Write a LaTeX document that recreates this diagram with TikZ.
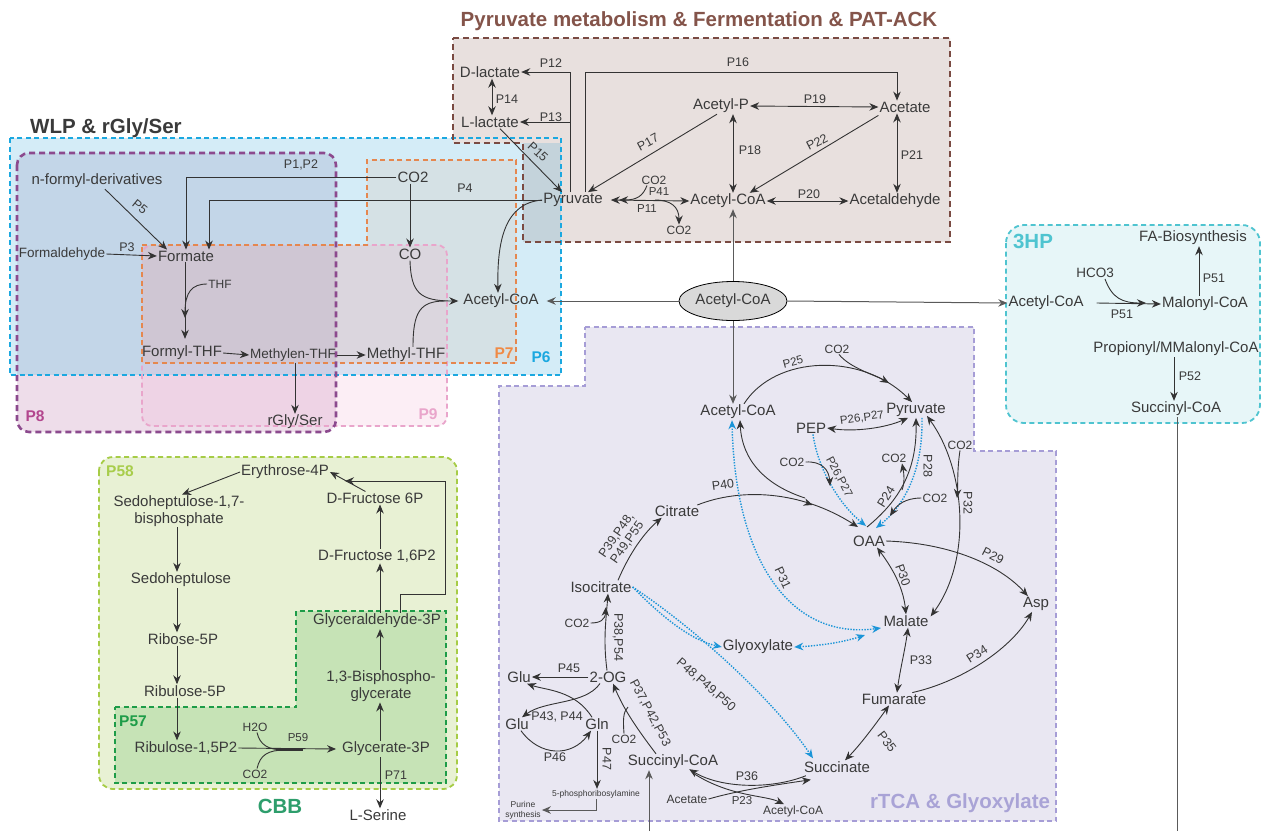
\documentclass[tikz,border=0pt]{standalone}
\usepackage{fontspec}
\setmainfont{Liberation Sans}
\usetikzlibrary{arrows.meta,decorations.markings,shapes.geometric,calc}
\definecolor{txt}{HTML}{3A3A3A}
\definecolor{lnc}{HTML}{333333}
\definecolor{gln}{HTML}{5A5A5A}
\definecolor{brT}{HTML}{84544A}
\definecolor{brB}{HTML}{7A4A42}
\definecolor{brF}{HTML}{E8E0DE}
\definecolor{p6B}{HTML}{1BA8E0}
\definecolor{p6F}{HTML}{D4ECF7}
\definecolor{p8B}{HTML}{8C4A8E}
\definecolor{p8L}{HTML}{B3468E}
\definecolor{p8F}{HTML}{C3D6E8}
\definecolor{p8G}{HTML}{EEDDEA}
\definecolor{p9B}{HTML}{E9A5CB}
\definecolor{p9F}{HTML}{F2B4D4}
\definecolor{p7B}{HTML}{E5874F}
\definecolor{p7L}{HTML}{F08A45}
\definecolor{ovF}{HTML}{C4D3DB}
\definecolor{hpB}{HTML}{4FC4D0}
\definecolor{hpF}{HTML}{E7F6F8}
\definecolor{rtB}{HTML}{A69DD6}
\definecolor{rtF}{HTML}{E9E7F2}
\definecolor{rtL}{HTML}{A9A3D6}
\definecolor{c58B}{HTML}{A6CC46}
\definecolor{c58F}{HTML}{E8F1D4}
\definecolor{c58L}{HTML}{A8CD4B}
\definecolor{c57B}{HTML}{1E9C48}
\definecolor{c57F}{HTML}{C6E3B6}
\definecolor{cbbT}{HTML}{2E9E6C}
\definecolor{bdot}{HTML}{1B95D8}
\definecolor{ellF}{HTML}{D9D9D9}
\tikzset{
  mt/.style={font=\fontsize{15}{17}\selectfont, text=txt, inner sep=1pt},
  mtt/.style={font=\fontsize{15}{16.5}\selectfont, text=txt, inner sep=1pt, align=center},
  mt2/.style={font=\fontsize{13.5}{15}\selectfont, text=txt, inner sep=1pt},
  st/.style={font=\fontsize{12}{13}\selectfont, text=txt, inner sep=1pt},
  pl/.style={font=\fontsize{12.5}{13.5}\selectfont, text=txt, inner sep=0.5pt},
  pls/.style={font=\fontsize{11.5}{13}\selectfont, text=txt, inner sep=0.5pt},
  tt/.style={font=\fontsize{8.5}{10}\selectfont, text=txt, inner sep=1pt},
  ttl/.style={font=\bfseries\fontsize{20.5}{23}\selectfont, inner sep=1pt},
  bl/.style={font=\bfseries\fontsize{15.5}{17}\selectfont, inner sep=1pt},
  ln/.style={draw=lnc, line width=0.9pt},
  ar/.style={ln, -{Stealth[length=9pt,width=7.5pt]}},
  dar/.style={ln, {Stealth[length=9pt,width=7.5pt]}-{Stealth[length=9pt,width=7.5pt]}},
  gar/.style={draw=gln, line width=1pt, -{Stealth[length=9pt,width=7.5pt]}},
  gln/.style={draw=gln, line width=1pt},
  bar/.style={draw=bdot, line width=1.4pt, dash pattern=on 1.4pt off 1.4pt, -{Stealth[length=9pt,width=7.5pt]}},
  bdar/.style={draw=bdot, line width=1.4pt, dash pattern=on 1.4pt off 1.4pt, {Stealth[length=9pt,width=7.5pt]}-{Stealth[length=9pt,width=7.5pt]}},
  midar/.style={decoration={markings, mark=at position #1 with {\arrow{Stealth[length=9pt,width=7.5pt]}}}, postaction={decorate}},
  boxd/.style={line width=2.2pt, dash pattern=on 6pt off 4pt},
  boxt/.style={line width=1.8pt, dash pattern=on 5pt off 3.5pt}
}
\begin{document}
\begin{tikzpicture}[x=1pt,y=-1pt]
\useasboundingbox (0,0) rectangle (1263,831);
\fill[white] (0,0) rectangle (1263,831);

% ---------- backgrounds ----------
\fill[p6F] (10,138) rectangle (561,375);
\begin{scope}
  \clip (0,0) rectangle (600,375);
  \fill[p8F, rounded corners=12pt] (17,153) rectangle (336,432);
\end{scope}
\begin{scope}
  \clip (0,375) rectangle (600,500);
  \fill[p8G, rounded corners=12pt] (17,153) rectangle (336,432);
\end{scope}
\fill[p9F, fill opacity=0.22, rounded corners=10pt] (142,245) rectangle (447,426);
\fill[p7B, fill opacity=0.1] (142,245) -- (367,245) -- (367,160) -- (516,160) -- (516,363) -- (142,363) -- cycle;
\fill[brF] (453,38) -- (950,38) -- (950,242) -- (523,242) -- (523,143) -- (453,143) -- cycle;
\fill[ovF] (523,143) rectangle (561,242);

\draw[p6B, boxt] (10,138) rectangle (561,375);
\draw[p9B, boxt, rounded corners=10pt] (142,245) rectangle (447,426);
\draw[p7B, boxt] (142,245) -- (367,245) -- (367,160) -- (516,160) -- (516,363) -- (142,363) -- cycle;
\draw[p8B, line width=2.6pt, dash pattern=on 6pt off 4pt, rounded corners=12pt] (17,153) rectangle (336,432);
\draw[brB, boxd] (453,38) -- (950,38) -- (950,242) -- (523,242) -- (523,143) -- (453,143) -- cycle;

\filldraw[fill=hpF, draw=hpB, boxt, rounded corners=18pt] (1006,225) rectangle (1260,423);
\filldraw[fill=rtF, draw=rtB, boxt] (585,327) -- (974,327) -- (974,451) -- (1056,451) -- (1056,821) -- (499,821) -- (499,386) -- (585,386) -- cycle;
\filldraw[fill=c58F, draw=c58B, boxt, rounded corners=14pt] (99,457) rectangle (457,789);
\filldraw[fill=c57F, draw=c57B, boxt] (115,707) -- (296,707) -- (296,611) -- (446,611) -- (446,783) -- (115,783) -- cycle;

% ---------- titles ----------
\node[ttl, text=brT] (t1) at (699,21) {Pyruvate metabolism \& Fermentation \& PAT-ACK};
\node[ttl, text=txt, anchor=west] (t2) at (29,128) {WLP \& rGly/Ser};
\node[ttl, text=hpB] (t3) at (1033,241) {3HP};
\node[ttl, text=cbbT] (t4) at (280,806) {CBB};
\node[ttl, text=rtL] (t5) at (960,803) {rTCA \& Glyoxylate};
\node[bl, text=p6B] (l6) at (541,357) {P6};
\node[bl, text=p7L] (l7) at (504,353) {P7};
\node[bl, text=p8L] (l8) at (35,416) {P8};
\node[bl, text=p9B] (l9) at (428,414) {P9};
\node[bl, text=c58L] (l58) at (120,471) {P58};
\node[bl, text=c57B] (l57) at (133,721) {P57};

% ---------- pyruvate module ----------
\node[mt] (dlac) at (490,72) {D-lactate};
\node[mt] (llac) at (490,122) {L-lactate};
\node[mt] (acp) at (721,106) {Acetyl-P};
\node[mt] (acet) at (905,107) {Acetate};
\node[mt] (pyr) at (573,200) {Pyruvate};
\node[mt] (accoa1) at (728,201) {Acetyl-CoA};
\node[mt] (acald) at (895,201) {Acetaldehyde};
\node[st] (co2a) at (654,180) {CO2};
\node[st] (co2b) at (679,230) {CO2};

\coordinate (j12) at (570,72);
\coordinate (j16) at (585,72);
\draw[ar] (pyr.north -| j12) |- (dlac.east);
\draw[ar] (j12 |- llac.east) -- (llac.east);
\draw[ar] (pyr.north -| j16) -- (j16) -| ([xshift=-8pt]acet.north);
\draw[dar] ([xshift=2pt]dlac.south) -- ([xshift=2pt]llac.north);
\draw[ar] ([xshift=10pt]llac.south) -- ([xshift=-11pt]pyr.north);
\draw[ar] ([xshift=-4pt]acp.south) -- ([xshift=15pt]pyr.north);
\draw[dar] ($(acp.south)+(12,0)$) -- ($(accoa1.north)+(5,0)$);
\draw[dar] (acp.east) -- (acet.west);
\draw[dar] ($(acet.south)+(-8,0)$) -- ($(acald.north)+(2,0)$);
\draw[ar] ($(acet.south west)+(0,2)$) -- ($(accoa1.north east)+(-17,0)$);
\draw[dar] (accoa1.east) -- (acald.west);
\draw[dar] ($(pyr.east)+(7,0)$) -- (accoa1.west);
\draw[ar] ($(co2a.south)+(-7,0)$) .. controls (643,196) and (637,200) .. (619,200);
\draw[ar] (655,200) .. controls (671,200) and (679,207) .. (co2b.north);

\node[pl] at (551,63) {P12};
\node[pl] at (551,117) {P13};
\node[pl] at (507,99) {P14};
\node[pl, rotate=-43] at (538,152) {P15};
\node[pl] at (738,62) {P16};
\node[pl, rotate=28] at (648,142) {P17};
\node[pl] at (750,150) {P18};
\node[pl] at (815,99) {P19};
\node[pl] at (809,194) {P20};
\node[pl] at (912,155) {P21};
\node[pl, rotate=27] at (817,142) {P22};
\node[pls] at (659,192) {P41};
\node[pls] at (647,209) {P11};

% ---------- WLP ----------
\node[mt] (nform) at (97,181) {n-formyl-derivatives};
\node[mt] (co2w) at (413,177) {CO2};
\node[mt2] (fald) at (62,254) {Formaldehyde};
\node[mt] (fmt) at (186,256) {Formate};
\node[st] (thf) at (220,284) {THF};
\node[mt] (co) at (410,254) {CO};
\node[mt] (accoaw) at (501,301) {Acetyl-CoA};
\node[mt] (fthf) at (182,353) {Formyl-THF};
\node[mt2] (mthf) at (293,355) {Methylen-THF};
\node[mt] (methyl) at (406,355) {Methyl-THF};
\node[mt] (rgly) at (295,422) {rGly/Ser};

\draw[ar] ($(nform.south)+(8,0)$) -- ($(fmt.north)+(-19,0)$);
\draw[ar] (co2w.west) -| (fmt.north);
\draw[ar] (pyr.west) -| ($(fmt.north)+(23,0)$);
\draw[ar] (fald.east) -- (fmt.west);
\draw[ar] (co2w.south -| co.north) -- (co.north);
\draw[ar] ($(fmt.south)+(-1,0)$) -- ($(fthf.north)+(3,-6)$);
\draw[ar] (thf.west) .. controls (192,284) and (185,292) .. (185,318);
\draw[ar] (co.south) .. controls (411,293) and (420,301) .. ($(accoaw.west)+(-4,0)$);
\draw[ln] ($(methyl.north)+(7,0)$) .. controls (413,312) and (420,301) .. (445,301);
\draw[ar] (pyr.west) .. controls (505,203) and (497,240) .. ($(accoaw.north)+(-3,0)$);
\draw[ar] (fthf.east) -- (mthf.west);
\draw[ar] (mthf.east) -- (methyl.west);
\draw[ar] (mthf.south -| rgly.north) -- (rgly.north);

\node[pl] at (301,165) {P1,P2};
\node[pl] at (465,188) {P4};
\node[pl, rotate=-39] at (140,207) {P5};
\node[pl] at (127,247) {P3};

% ---------- central ----------
\node[ellipse, draw=black, fill=ellF, line width=0.8pt, minimum width=108pt, minimum height=39pt, inner sep=0pt, font=\fontsize{15}{17}\selectfont, text=txt] (ell) at (733,301) {Acetyl-CoA};

% ---------- 3HP ----------
\node[mt] (accoa3) at (1046,303) {Acetyl-CoA};
\node[mt2] (hco3) at (1095,273) {HCO3};
\node[mt] (malo) at (1205,304) {Malonyl-CoA};
\node[mt] (fab) at (1193,238) {FA-Biosynthesis};
\node[mt] (prop) at (1176,349) {Propionyl/MMalonyl-CoA};
\node[mt] (succ3) at (1176,409) {Succinyl-CoA};
\coordinate (bot3) at (1177,831);

\draw[gar] (ell.west) -- ($(accoaw.east)+(7,0)$);
\draw[gar] (ell.east) -- (accoa3.west);
\draw[gar] (ell.north) -- (ell.north |- accoa1.south);

\draw[ar] ($(accoa3.east)+(12,0)$) -- (malo.west);
\draw[ar] ($(hco3.south)+(10,0)$) .. controls (1112,298) and (1122,303) .. (1146,303);
\draw[ar] ($(malo.north)+(-6,0)$) -- ($(fab.south)+(6,0)$);
\draw[ar] ($(prop.south)+(-2,0)$) -- ($(succ3.north)+(-2,0)$);
\draw[gln] (succ3.south -| bot3) -- (bot3);
\node[pl] at (1122,314) {P51};
\node[pl] at (1214,278) {P51};
\node[pl] at (1190,376) {P52};

% ---------- rTCA ----------
\node[mt] (accoar) at (738,412) {Acetyl-CoA};
\node[mt] (pyrr) at (916,410) {Pyruvate};
\node[mt] (pep) at (811,428) {PEP};
\node[mt] (oaa) at (869,541) {OAA};
\node[mt] (cit) at (677,511) {Citrate};
\node[mt] (isoc) at (601,587) {Isocitrate};
\node[mt] (glyox) at (758,647) {Glyoxylate};
\node[mt] (mal) at (906,621) {Malate};
\node[mt] (asp) at (1036,604) {Asp};
\node[mt] (og) at (608,677) {2-OG};
\node[mt] (glu1) at (519,677) {Glu};
\node[mt] (glu2) at (517,724) {Glu};
\node[mt] (gln) at (597,724) {Gln};
\node[mt] (fum) at (894,699) {Fumarate};
\node[mt] (succoa) at (673,762) {Succinyl-CoA};
\node[mt] (succ) at (837,767) {Succinate};
\node[st] (acetr) at (687,799) {Acetate};
\node[st] (accoas) at (793,811) {Acetyl-CoA};
\node[tt] (prpp) at (596,794) {5-phosphoribosylamine};
\node[tt, align=center] (pur) at (523,810) {Purine\\synthesis};
\node[st] (c1) at (837,349) {CO2};
\node[st] (c2) at (792,462) {CO2};
\node[st] (c3) at (894,458) {CO2};
\node[st] (c4) at (935,498) {CO2};
\node[st] (c5) at (960,445) {CO2};
\node[st] (c6) at (577,623) {CO2};
\node[st] (c7) at (624,739) {CO2};
\coordinate (bot1) at (649,831);

\draw[gar] (ell.south) -- (ell.south |- accoar.north);

% P25
\draw[ar] ($(accoar.north)+(6,0)$) .. controls (775,355) and (862,352) .. ($(pyrr.north)+(-4,0)$);
\draw[ar] ($(c1.south)+(2,0)$) .. controls (850,368) and (875,375) .. (889,383);
\node[pls, rotate=15] at (793,362) {P25};
% P26,P27
\draw[dar] (pep.east) .. controls (855,432) and (885,428) .. ($(pyrr.south)+(-8,0)$);
\node[pls, rotate=8] at (862,418) {P26,P27};
\draw[bar] ($(pep.south)+(2,0)$) .. controls (818,470) and (840,505) .. (866,526);
\draw[ar] (c2.east) .. controls (822,461) and (829,470) .. (830,486);
\node[pls, rotate=-62] at (839,477) {P26,P27};
% P24
\draw[ar] (867,527) .. controls (900,500) and (917,470) .. (pyrr.south);
\draw[ar] (902,490) .. controls (905,482) and (904,474) .. ($(c3.south)+(8,0)$);
\node[pl, rotate=58] at (886,497) {P24};
% P28
\draw[bar] ($(pyrr.south)+(6,0)$) .. controls (923,470) and (905,505) .. (876,528);
\draw[ar] (c4.west) .. controls (905,498) and (897,505) .. (890,516);
\node[pl, rotate=-90] at (928,466) {P28};
% P32
\draw[dar] ($(pyrr.south)+(11,-2)$) .. controls (966,470) and (972,560) .. ($(mal.north east)+(1,2)$);
\draw[ar] (c5.south) .. controls (957,470) and (958,485) .. (957,498);
\node[pl, rotate=-90] at (968,503) {P32};
% P40
\draw[ln, -{Stealth[length=9pt,width=7.5pt]}, midar=0.7] ($(cit.east)+(-3,-6)$) .. controls (740,488) and (800,490) .. (858,527);
\draw[ar] (805,498) .. controls (765,485) and (742,460) .. ($(accoar.south)+(2,0)$);
\node[pl, rotate=8] at (723,485) {P40};
% P31
\draw[bdar] ($(accoar.south)+(-6,0)$) .. controls (735,560) and (790,640) .. (881,628);
\draw[bdar] (glyox.east) .. controls (830,645) and (850,640) .. (865,635);
\node[pl, rotate=-65] at (783,578) {P31};
% glyoxylate shunt
\draw[bar] (isoc.east) .. controls (660,615) and (690,640) .. (glyox.west);
\draw[bar] (isoc.east) .. controls (690,625) and (770,695) .. ($(succ.north)+(-24,-2)$);
\node[pl, rotate=-41] at (706,685) {P48,P49,P50};
% P39
\draw[ar] ($(isoc.north)+(17,0)$) .. controls (630,552) and (645,532) .. ($(cit.south west)+(8,0)$);
\node[pl, rotate=55, align=center, font=\fontsize{12.5}{13}\selectfont] at (622,539) {P39,P48,\\P49,P55};
% P38
\draw[ar] ($(og.north)+(-1,0)$) .. controls (603,640) and (606,620) .. ($(isoc.south)+(7,0)$);
\draw[ar] (c6.east) .. controls (600,623) and (605,620) .. (606,607);
\node[pl, rotate=-90] at (618,637) {P38,P54};
% 2-OG / Glu / Gln
\draw[ar] (og.west) -- (glu1.east);
\node[pl] at (569,668) {P45};
\draw[ar] ($(gln.north)+(-5,0)$) .. controls (575,690) and (545,690) .. ($(glu1.south)+(8,0)$);
\draw[ar] ($(og.south)+(-8,0)$) .. controls (585,705) and (545,700) .. ($(glu2.north)+(5,0)$);
\node[pl] at (557,717) {P43, P44};
\draw[ar] ($(glu2.south)+(4,0)$) .. controls (540,757) and (572,757) .. ($(gln.south)+(-6,0)$);
\node[pl] at (555,757) {P46};
\draw[ar] (gln.south) -- (gln.south |- prpp.north);
\node[pl, rotate=-90] at (607,759) {P47};
\draw[gar] (prpp.south) |- (pur.east);
% P37
\draw[ar] ($(succoa.north)+(-17,0)$) .. controls (638,730) and (624,710) .. ($(og.south)+(5,0)$);
\draw[ln] (c7.north) .. controls (623,720) and (623,712) .. (628,707);
\node[pl, rotate=-62] at (650,713) {P37,P42,P53};
% P36 / P23
\draw[ar] ($(succ.south west)+(3,2)$) .. controls (770,790) and (720,788) .. ($(succoa.south east)+(-30,-1)$);
\draw[ar] (acetr.east) .. controls (740,790) and (775,785) .. ($(succ.south west)+(8,6)$);
\draw[ar] ($(succoa.south east)+(-26,3)$) .. controls (730,797) and (765,795) .. ($(accoas.north)+(-9,0)$);
\node[pl] at (747,776) {P36};
\node[pls] at (742,801) {P23};
% OAA etc
\draw[dar] ($(oaa.south)+(8,0)$) .. controls (890,565) and (903,585) .. (mal.north);
\node[pl, rotate=-70] at (903,575) {P30};
\draw[ar] (oaa.east) .. controls (950,543) and (1000,565) .. ($(asp.north west)+(6,0)$);
\node[pl, rotate=-27] at (993,556) {P29};
\draw[dar] ($(mal.south)+(2,0)$) .. controls (905,650) and (900,670) .. ($(fum.north)+(3,0)$);
\node[pl] at (921,660) {P33};
\draw[ar] ($(fum.north east)+(-15,0)$) .. controls (960,682) and (1010,650) .. ($(asp.south)+(-4,0)$);
\node[pl, rotate=32] at (977,654) {P34};
\draw[dar] ($(fum.south)+(-5,0)$) .. controls (875,725) and (860,745) .. ($(succ.north)+(8,0)$);
\node[pl, rotate=-52] at (887,742) {P35};
\draw[gar] (bot1) -- (bot1 |- succoa.south);

% ---------- CBB ----------
\node[mt] (ery) at (285,472) {Erythrose-4P};
\node[mtt] (sbp) at (179,511) {Sedoheptulose-1,7-\\bisphosphate};
\node[mt] (sed) at (181,580) {Sedoheptulose};
\node[mt] (r5p) at (183,639) {Ribose-5P};
\node[mt] (ru5p) at (185,691) {Ribulose-5P};
\node[mt] (rubp) at (186,748) {Ribulose-1,5P2};
\node[st] (h2o) at (255,727) {H2O};
\node[st] (co2c) at (255,774) {CO2};
\node[mt] (g3p) at (386,749) {Glycerate-3P};
\node[mtt] (bpg) at (381,686) {1,3-Bisphospho-\\glycerate};
\node[mt] (gap) at (377,621) {Glyceraldehyde-3P};
\node[mt] (f16) at (377,556) {D-Fructose 1,6P2};
\node[mt] (f6p) at (375,498) {D-Fructose 6P};
\node[mt] (ser) at (378,815) {L-Serine};
\coordinate (vx) at (177,600);
\coordinate (vy) at (380,600);
\coordinate (gx) at (445,481);

\draw[ar] (ery.west) -- ($(sbp.north)+(3,0)$);
\draw[ar] (sbp.south -| vx) -- (sed.north -| vx);
\draw[ar] (sed.south -| vx) -- (r5p.north -| vx);
\draw[ar] (r5p.south -| vx) -- (ru5p.north -| vx);
\draw[ar] (ru5p.south -| vx) -- (rubp.north -| vx);
\draw[ar] (rubp.east) -- ($(g3p.west)+(-5,0)$);
\draw[ln] ($(h2o.south)+(2,0)$) .. controls (260,745) and (268,750) .. (285,750);
\draw[ln] ($(co2c.north)+(2,0)$) .. controls (260,755) and (268,750) .. (285,750);
\draw[lnc, line width=1.7pt] (278,750) -- (303,750);
\node[pls] at (298,738) {P59};
\draw[ar] (g3p.north -| vy) -- (bpg.south -| vy);
\draw[ar] (bpg.north -| vy) -- (gap.south -| vy);
\draw[ar] (gap.north -| vy) -- (f16.south -| vy);
\draw[ar] (f16.north -| vy) -- (f6p.south -| vy);
\draw[ar] ($(f6p.north west)+(40,0)$) -- (ery.east);
\draw[ar] ($(gap.north)+(23,0)$) -- ++(0,-18) -| (gx) -- ($(ery.east)+(15,9)$);
\draw[ar] (g3p.south -| vy) -- (ser.north -| vy);
\node[pl] at (396,775) {P71};
\end{tikzpicture}
\end{document}
